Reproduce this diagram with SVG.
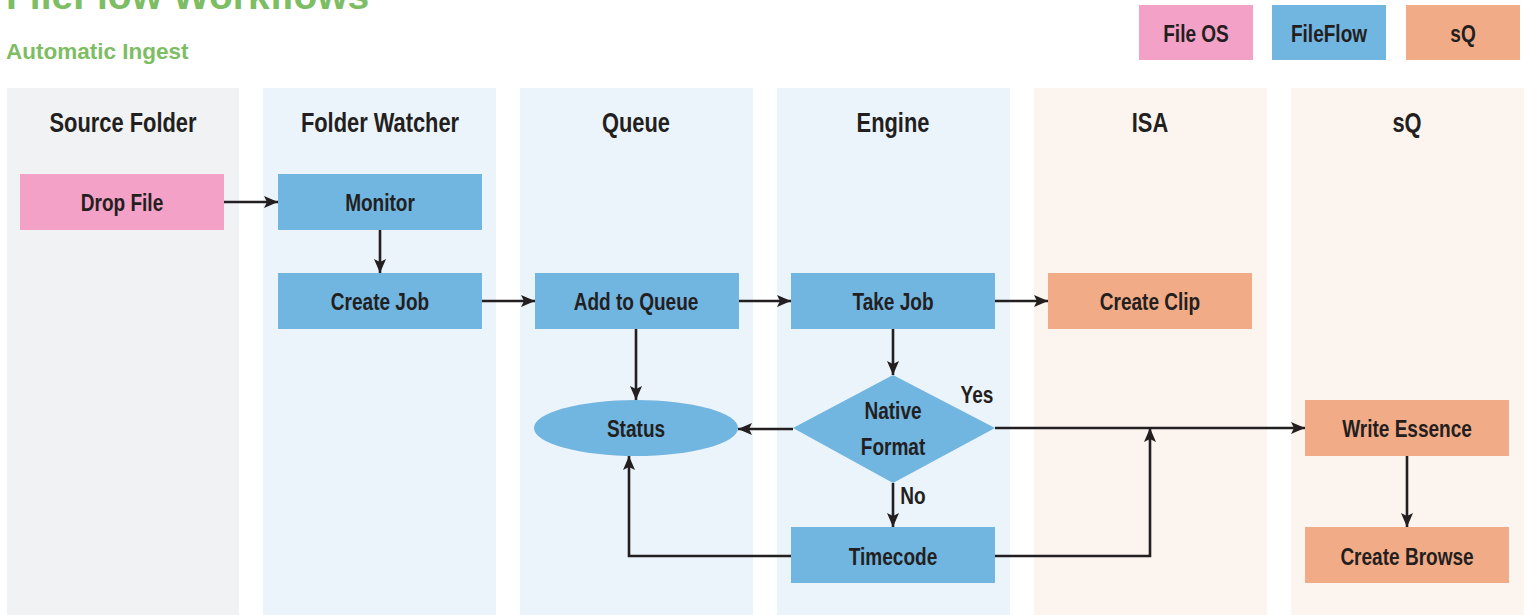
<svg xmlns="http://www.w3.org/2000/svg" width="1530" height="615" viewBox="0 0 1530 615">
<defs>
<marker id="ah" viewBox="0 0 14 12" refX="14" refY="6" markerWidth="14" markerHeight="12" markerUnits="userSpaceOnUse" orient="auto">
<path d="M0,0 L14,6 L0,12 L3,6 Z" fill="#231f20"/>
</marker>
<style>
.t{font-family:"Liberation Sans",Arial,sans-serif;font-weight:bold;fill:#231f20;text-anchor:middle}
.lt{font-size:27px}
.nt{font-size:23.5px}
.g{font-family:"Liberation Sans",Arial,sans-serif;font-weight:bold;fill:#7dbd63}
.pink{fill:#f3a1c6}
.blue{fill:#71b5e1}
.org{fill:#f2ab87}
.c{fill:none;stroke:#231f20;stroke-width:2.6;marker-end:url(#ah)}
</style>
</defs>
<rect width="1530" height="615" fill="#ffffff"/>
<text class="g" x="6" y="9" font-size="39">FileFlow Workflows</text>
<text class="g" x="6" y="59" font-size="22.5">Automatic Ingest</text>

<g id="legend">
<g id="legend-fileos"><rect class="pink" x="1139" y="5" width="114" height="55"/><text class="t nt" transform="translate(1196,42) scale(0.81,1)">File OS</text></g>
<g id="legend-fileflow"><rect class="blue" x="1272" y="5" width="114" height="55"/><text class="t nt" transform="translate(1329,42) scale(0.81,1)">FileFlow</text></g>
<g id="legend-sq"><rect class="org" x="1406" y="5" width="114" height="55"/><text class="t nt" transform="translate(1463,42) scale(0.81,1)">sQ</text></g>
</g>

<g id="lanes">
<g id="lane-source"><rect x="7" y="88" width="232" height="527" fill="#f0f2f4"/><text class="t lt" transform="translate(123,132) scale(0.81,1)">Source Folder</text></g>
<g id="lane-watcher"><rect x="263" y="88" width="233" height="527" fill="#ecf4fb"/><text class="t lt" transform="translate(380,132) scale(0.81,1)">Folder Watcher</text></g>
<g id="lane-queue"><rect x="520" y="88" width="233" height="527" fill="#ecf4fb"/><text class="t lt" transform="translate(636,132) scale(0.81,1)">Queue</text></g>
<g id="lane-engine"><rect x="777" y="88" width="233" height="527" fill="#ecf4fb"/><text class="t lt" transform="translate(893,132) scale(0.81,1)">Engine</text></g>
<g id="lane-isa"><rect x="1034" y="88" width="233" height="527" fill="#fcf4ee"/><text class="t lt" transform="translate(1150,132) scale(0.81,1)">ISA</text></g>
<g id="lane-sq"><rect x="1291" y="88" width="233" height="527" fill="#fcf4ee"/><text class="t lt" transform="translate(1407,132) scale(0.81,1)">sQ</text></g>
</g>

<g id="connectors">
<path class="c" d="M224,202 H278"/>
<path class="c" d="M380,230 V273"/>
<path class="c" d="M482,301 H535"/>
<path class="c" d="M739,301 H791"/>
<path class="c" d="M995,301 H1048"/>
<path class="c" d="M893,329 V375"/>
<path class="c" d="M636,329 V400"/>
<path class="c" d="M793,429 H738"/>
<path class="c" d="M995,428 H1305"/>
<path class="c" d="M893,483 V527"/>
<path class="c" d="M791,556 H629 V456"/>
<path class="c" d="M995,556 H1150 V428"/>
<path class="c" d="M1407,456 V527"/>
<text class="t nt" transform="translate(977,403) scale(0.81,1)">Yes</text>
<text class="t nt" transform="translate(913,504) scale(0.81,1)">No</text>
</g>

<g id="drop-file"><rect class="pink" x="20" y="174" width="204" height="56"/><text class="t nt" transform="translate(122,211) scale(0.81,1)">Drop File</text></g>
<g id="monitor"><rect class="blue" x="278" y="174" width="204" height="56"/><text class="t nt" transform="translate(380,211) scale(0.81,1)">Monitor</text></g>
<g id="create-job"><rect class="blue" x="278" y="273" width="204" height="56"/><text class="t nt" transform="translate(380,310) scale(0.81,1)">Create Job</text></g>
<g id="add-to-queue"><rect class="blue" x="535" y="273" width="204" height="56"/><text class="t nt" transform="translate(636,310) scale(0.81,1)">Add to Queue</text></g>
<g id="take-job"><rect class="blue" x="791" y="273" width="204" height="56"/><text class="t nt" transform="translate(893,310) scale(0.81,1)">Take Job</text></g>
<g id="create-clip"><rect class="org" x="1048" y="273" width="204" height="56"/><text class="t nt" transform="translate(1150,310) scale(0.81,1)">Create Clip</text></g>
<g id="status"><ellipse class="blue" cx="636" cy="428" rx="102" ry="28"/><text class="t nt" transform="translate(636,437) scale(0.81,1)">Status</text></g>
<g id="native-format"><polygon class="blue" points="893,375 995,428 893,483 793,428"/><text class="t nt" transform="translate(893,419) scale(0.81,1)">Native</text><text class="t nt" transform="translate(893,455) scale(0.81,1)">Format</text></g>
<g id="timecode"><rect class="blue" x="791" y="527" width="204" height="56"/><text class="t nt" transform="translate(893,565) scale(0.81,1)">Timecode</text></g>
<g id="write-essence"><rect class="org" x="1305" y="400" width="204" height="56"/><text class="t nt" transform="translate(1407,437) scale(0.81,1)">Write Essence</text></g>
<g id="create-browse"><rect class="org" x="1305" y="527" width="204" height="56"/><text class="t nt" transform="translate(1407,565) scale(0.81,1)">Create Browse</text></g>
</svg>
